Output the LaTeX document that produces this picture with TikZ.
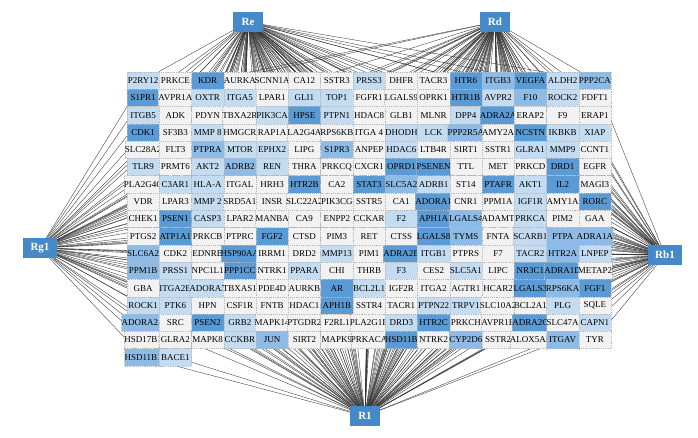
\documentclass[tikz,border=0pt]{standalone}
\usepackage{fontspec}
\setmainfont{Liberation Serif}
\pgfdeclarelayer{edges}
\pgfsetlayers{edges,main}
\definecolor{lvG}{HTML}{F2F2F2}
\definecolor{lvL}{HTML}{C4DCF1}
\definecolor{lvM}{HTML}{8DBBE5}
\definecolor{lvS}{HTML}{5A9AD5}
\definecolor{hubc}{HTML}{4689C9}
\def\numG{1}\def\numL{2}\def\numM{3}\def\numS{4}
\tikzset{
  cell/.style={rectangle, minimum width=32.27pt, minimum height=17.3pt, inner sep=0pt,
    draw=black!28, dash pattern=on 1.2pt off 1pt, line width=0.35pt,
    font=\fontsize{9}{9}\selectfont, text=black},
  hub/.style={rectangle, fill=hubc, text=white, inner sep=0pt, minimum height=20pt,
    font=\fontsize{11}{11}\selectfont\bfseries},
  edge/.style={draw=black!80, line width=0.35pt}
}
\newcommand\gcell[4]{%
  \pgfmathsetmacro\cx{127+32.27*(#2-0.5)}%
  \pgfmathsetmacro\cy{80.5+17.3*(#1-1)}%
  \node[cell, fill=lv#4] (n#1-#2) at (\cx,\cy) {#3};%
  \pgfmathsetmacro\dA{veclen((\cx-248)/100,(\cy-22)/100)}%
  \pgfmathsetmacro\dB{veclen((\cx-495)/100,(\cy-22)/100)}%
  \pgfmathsetmacro\dC{veclen((\cx-40)/100,(\cy-248)/100)}%
  \pgfmathsetmacro\dD{veclen((\cx-665)/100,(\cy-255)/100)}%
  \pgfmathsetmacro\dE{veclen((\cx-365)/100,(\cy-416)/100)}%
  \begin{pgfonlayer}{edges}%
  \foreach \hh/\dd in {Re/\dA,Rd/\dB,Rg1/\dC,Rb1/\dD,R1/\dE}{%
    \pgfmathtruncatemacro\rk{(\dA<\dd)+(\dB<\dd)+(\dC<\dd)+(\dD<\dd)+(\dE<\dd)}%
    \ifnum\rk<\csname num#4\endcsname\relax
      \draw[edge] (\hh) -- (n#1-#2);%
    \fi
  }%
  \end{pgfonlayer}%
}
\newcommand\grow[2]{%
  \foreach [count=\c] \t/\l in {#2}{\gcell{#1}{\c}{\t}{\l}}%
}
\begin{document}
\begin{tikzpicture}[x=1pt,y=-1pt]
\useasboundingbox (0,0) rectangle (698,437);
\node[hub, minimum width=30pt] (Re) at (248,22) {Re};
\node[hub, minimum width=30pt] (Rd) at (495,22) {Rd};
\node[hub, minimum width=34pt] (Rg1) at (40,248) {Rg1};
\node[hub, minimum width=34pt] (Rb1) at (665,255) {Rb1};
\node[hub, minimum width=30pt] (R1) at (365,416) {R1};
\grow{1}{P2RY12/L,PRKCE/G,KDR/S,AURKA/G,SCNN1A/G,CA12/G,SSTR3/G,PRSS3/L,DHFR/G,TACR3/G,HTR6/S,ITGB3/M,VEGFA/S,ALDH2/L,PPP2CA/M}
\grow{2}{S1PR1/S,AVPR1A/G,OXTR/L,ITGA5/L,LPAR1/G,GLI1/L,TOP1/L,FGFR1/G,LGALS9/G,OPRK1/G,HTR1B/S,AVPR2/L,F10/M,ROCK2/L,FDFT1/G}
\grow{3}{ITGB5/L,ADK/G,PDYN/G,TBXA2R/G,PIK3CA/L,HPSE/S,PTPN1/L,HDAC8/G,GLB1/G,MLNR/G,DPP4/L,ADRA2A/S,ERAP2/G,F9/G,ERAP1/G}
\grow{4}{CDK1/S,SF3B3/G,MMP 8/L,HMGCR/G,RAP1A/G,LA2G4A/G,RPS6KB/G,ITGA 4/G,DHODH/L,LCK/L,PPP2R5A/M,AMY2A/G,NCSTN/S,IKBKB/L,XIAP/L}
\grow{5}{SLC28A2/G,FLT3/G,PTPRA/M,MTOR/L,EPHX2/L,LIPG/G,S1PR3/M,ANPEP/G,HDAC6/L,LTB4R/G,SIRT1/G,SSTR1/G,GLRA1/L,MMP9/L,CCNT1/G}
\grow{6}{TLR9/L,PRMT6/G,AKT2/L,ADRB2/M,REN/L,THRA/G,PRKCQ/G,CXCR1/G,OPRD1/S,PSENEN/S,TTL/G,MET/G,PRKCD/G,DRD1/S,EGFR/G}
\grow{7}{PLA2G4C/G,C3AR1/L,HLA-A/L,ITGAL/G,HRH3/G,HTR2B/S,CA2/G,STAT3/S,SLC5A2/M,ADRB1/L,ST14/G,PTAFR/S,AKT1/L,IL2/S,MAGI3/G}
\grow{8}{VDR/G,LPAR3/G,MMP 2/L,SRD5A1/G,INSR/G,SLC22A2/G,PIK3CG/G,SSTR5/G,CA1/G,ADORA1/S,CNR1/G,PPM1A/G,IGF1R/L,AMY1A/G,RORC/S}
\grow{9}{CHEK1/G,PSEN1/S,CASP3/L,LPAR2/G,MANBA/G,CA9/G,ENPP2/G,CCKAR/G,F2/L,APH1A/S,LGALS4/M,ADAMT/G,PRKCA/L,PIM2/G,GAA/G}
\grow{10}{PTGS2/G,ATP1A1/S,PRKCB/G,PTPRC/G,FGF2/S,CTSD/G,PIM3/G,RET/G,CTSS/G,LGALS8/S,TYMS/M,FNTA/G,SCARB1/L,PTPA/M,ADRA1A/M}
\grow{11}{SLC6A2/M,CDK2/G,EDNRB/G,HSP90AA/S,IRRM1/G,DRD2/G,MMP13/L,PIM1/G,ADRA2B/S,ITGB1/L,PTPRS/G,F7/G,TACR2/L,HTR2A/M,LNPEP/L}
\grow{12}{PPM1B/M,PRSS1/L,NPC1L1/G,PPP1CC/S,NTRK1/G,PPARA/L,CHI/G,THRB/G,F3/L,CES2/G,SLC5A1/L,LIPC/G,NR3C1/S,ADRA1D/S,METAP2/G}
\grow{13}{GBA/G,ITGA2B/L,ADORA3/L,TBXAS1/G,PDE4D/G,AURKB/G,AR/S,BCL2L1/L,IGF2R/G,ITGA2/G,AGTR1/G,HCAR2/G,LGALS3/S,RPS6KA/M,FGF1/S}
\grow{14}{ROCK1/L,PTK6/L,HPN/G,CSF1R/G,FNTB/G,HDAC1/G,APH1B/S,SSTR4/G,TACR1/G,PTPN22/L,TRPV1/L,SLC10A2/G,BCL2A1/G,PLG/L,SQLE/G}
\grow{15}{ADORA2A/M,SRC/G,PSEN2/S,GRB2/L,MAPK14/G,PTGDR2/G,F2RL1/G,PLA2G1B/G,DRD3/L,HTR2C/S,PRKCH/G,AVPR1B/G,ADRA2C/S,SLC47A/G,CAPN1/L}
\grow{16}{HSD17B1/G,GLRA2/G,MAPK8/G,CCKBR/L,JUN/M,SIRT2/G,MAPK9/G,PRKACA/G,HSD11B/S,NTRK2/G,CYP2D6/M,SSTR2/G,ALOX5AP/G,ITGAV/M,TYR/G}
\grow{17}{HSD11B1/M,BACE1/L}
\end{tikzpicture}
\end{document}
